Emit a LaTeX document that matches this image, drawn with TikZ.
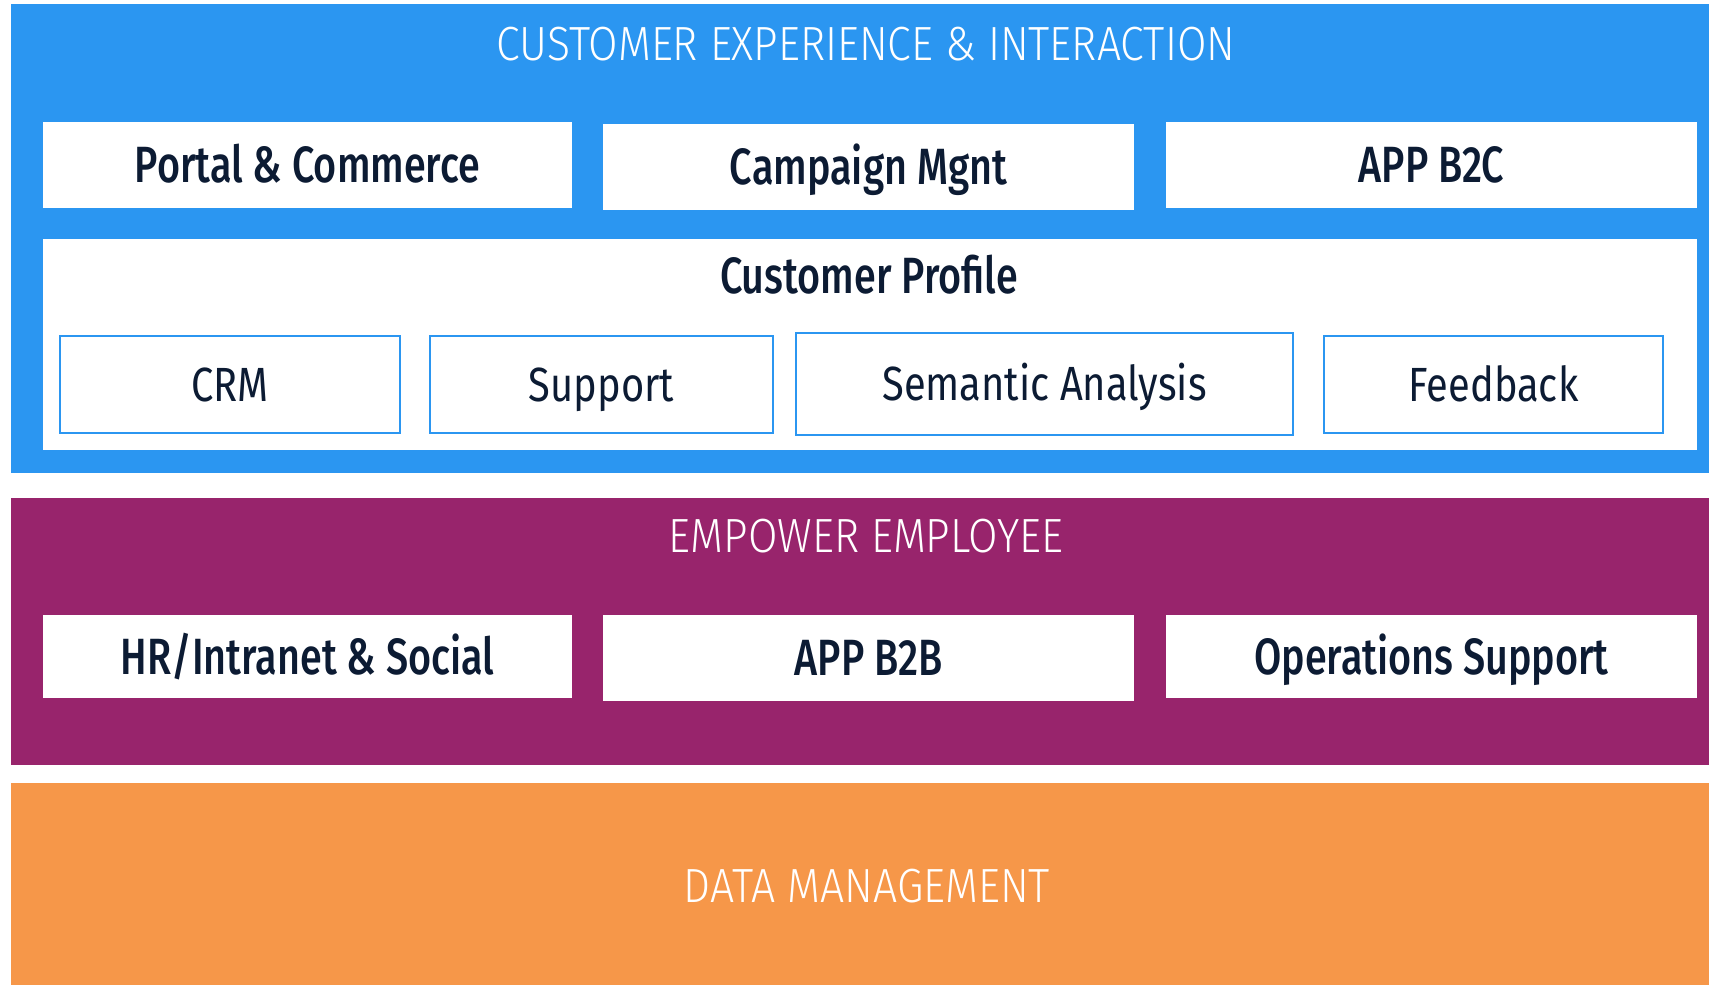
\documentclass[tikz,border=0pt]{standalone}
\usepackage{fontspec}
\setmainfont{Fira Sans}[FakeStretch=0.83]
\newfontfamily\medfont{Fira Sans Medium}[FakeStretch=0.775]
\newfontfamily\lightfont{Fira Sans Light}[FakeStretch=0.89]
\definecolor{cxblue}{HTML}{2B96F1}
\definecolor{empurple}{HTML}{98246C}
\definecolor{dmorange}{HTML}{F69749}
\definecolor{ink}{HTML}{0C1B33}
\tikzset{
  band/.style={fill=#1, draw=none, inner sep=0pt, outer sep=0pt},
  bandtitle/.style={text=white, font=\lightfont\fontsize{48}{48}\selectfont, anchor=base, inner sep=0pt},
  appbox/.style={fill=white, draw=none, inner sep=0pt, outer sep=0pt, text=ink,
    font=\medfont\fontsize{51}{51}\selectfont, text height=35pt, text depth=0pt},
  subbox/.style={fill=white, draw=cxblue, line width=2.5pt, inner sep=0pt, outer sep=0pt, text=ink,
    font=\fontsize{48}{48}\selectfont, text height=33pt, text depth=0pt},
}
\begin{document}
\begin{tikzpicture}[x=1pt, y=-1pt]
\useasboundingbox (0,0) rectangle (1709,985);
\fill[white] (0,0) rectangle (1709,985);

% three layer bands
\node[band=cxblue, minimum width=1698pt, minimum height=469pt] (cx) at (860,238.5) {};
\node[band=empurple, minimum width=1698pt, minimum height=267pt] (emp) at (860,631.5) {};
\node[band=dmorange, minimum width=1698pt, minimum height=202pt] (dm) at (860,884) {};

\node[bandtitle] (cxtitle) at (866,60) {CUSTOMER EXPERIENCE \& INTERACTION};
\node[bandtitle] (emptitle) at (866,552) {EMPOWER EMPLOYEE};
\node[bandtitle] (dmtitle) at (867,902) {DATA MANAGEMENT};

% customer experience applications
\node[appbox, minimum width=529pt, minimum height=86pt] (portal) at (307.5,165) {Portal \& Commerce};
\node[appbox, minimum width=531pt, minimum height=86pt] (campaign) at (868.5,167) {Campaign Mgnt};
\node[appbox, minimum width=531pt, minimum height=86pt] (appbtoc) at (1431.5,165) {APP B2C};

% customer profile container
\node[fill=white, inner sep=0pt, outer sep=0pt, minimum width=1654pt, minimum height=211pt] (profile) at (870,344.5) {};
\node[text=ink, font=\medfont\fontsize{51}{51}\selectfont, anchor=base, inner sep=0pt] (profiletitle) at (869,293) {Customer Profile};

\node[subbox, minimum width=340pt, minimum height=97pt] (crm) at (230,384.5) {CRM};
\node[subbox, minimum width=343pt, minimum height=97pt] (support) at (601.5,384.5) {Support};
\node[subbox, minimum width=497pt, minimum height=102pt] (semantic) at (1044.5,384) {Semantic Analysis};
\node[subbox, minimum width=339pt, minimum height=97pt] (feedback) at (1493.5,384.5) {Feedback};

% employee applications
\node[appbox, minimum width=529pt, minimum height=83pt] (hr) at (307.5,656.5) {HR/Intranet \& Social};
\node[appbox, minimum width=531pt, minimum height=86pt] (appbtob) at (868.5,658) {APP B2B};
\node[appbox, minimum width=531pt, minimum height=83pt] (ops) at (1431.5,656.5) {Operations Support};
\end{tikzpicture}
\end{document}
